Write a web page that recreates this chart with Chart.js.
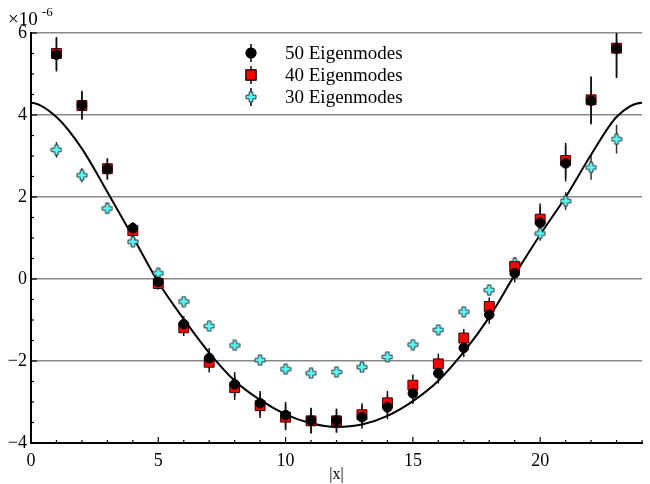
<!DOCTYPE html>
<html><head><meta charset="utf-8">
<script src="https://cdn.jsdelivr.net/npm/chart.js@4.4.1/dist/chart.umd.min.js"></script>
<style>html,body{margin:0;padding:0;background:#fff;}#wrap{width:650px;height:484px;position:relative;}</style>
</head><body><div id="wrap"><canvas id="c" width="650" height="484"></canvas></div>
<script>
// ---- data (values in units of 1e-6) ----
const xs = [1,2,3,4,5,6,7,8,9,10,11,12,13,14,15,16,17,18,19,20,21,22,23];
const modes50 = [5.47,4.24,2.68,1.24,-0.07,-1.10,-1.93,-2.57,-3.03,-3.32,-3.45,-3.45,-3.37,-3.13,-2.79,-2.30,-1.68,-0.87,0.14,1.37,2.82,4.35,5.62];
const err50   = [0.41,0.35,0.26,0.15,0.15,0.20,0.25,0.30,0.30,0.32,0.31,0.29,0.28,0.29,0.26,0.25,0.22,0.22,0.22,0.39,0.44,0.58,0.72];
const modes40 = [5.50,4.23,2.69,1.18,-0.11,-1.19,-2.03,-2.65,-3.09,-3.37,-3.46,-3.46,-3.31,-3.02,-2.59,-2.07,-1.44,-0.67,0.30,1.46,2.89,4.37,5.63];
const err40   = [0.40,0.34,0.25,0.15,0.15,0.20,0.25,0.30,0.30,0.32,0.31,0.29,0.28,0.29,0.26,0.25,0.22,0.22,0.22,0.38,0.43,0.57,0.70];
const modes30 = [3.15,2.53,1.72,0.91,0.14,-0.55,-1.15,-1.62,-1.98,-2.20,-2.30,-2.27,-2.15,-1.90,-1.60,-1.24,-0.80,-0.27,0.38,1.11,1.90,2.72,3.41];
const err30   = [0.19,0.17,0.14,0.12,0.12,0.10,0.10,0.10,0.12,0.12,0.12,0.12,0.12,0.12,0.12,0.12,0.12,0.13,0.15,0.18,0.22,0.30,0.35];
// fitted curve, read at integer |x| (end points just outside the frame keep the crests flat)
const curveX = [-1,0,1,2,3,4,5,6,7,8,9,10,11,12,13,14,15,16,17,18,19,20,21,22,23,24,25];
const curveY = [3.95,4.30,3.95,3.18,2.12,1.03,-0.08,-0.98,-1.80,-2.48,-2.95,-3.30,-3.52,-3.61,-3.55,-3.34,-2.98,-2.48,-1.78,-0.93,0.10,1.08,2.00,3.03,3.95,4.30,4.10];
const xTicks = [0,5,10,15,20];
const yTicks = [-4,-2,0,2,4,6];
const labels = ['50 Eigenmodes','40 Eigenmodes','30 Eigenmodes'];

const FONT = 'Liberation Serif';
const toPts = (x, y) => x.map((v, i) => ({x: v, y: y[i]}));

// plus-shaped marker
function makePlus() {
  const c = document.createElement('canvas'); c.width = 12; c.height = 12;
  const g = c.getContext('2d');
  const m = 6, a = 1.8, b = 5;
  g.beginPath();
  g.moveTo(m-a, m-b); g.lineTo(m+a, m-b); g.lineTo(m+a, m-a); g.lineTo(m+b, m-a);
  g.lineTo(m+b, m+a); g.lineTo(m+a, m+a); g.lineTo(m+a, m+b); g.lineTo(m-a, m+b);
  g.lineTo(m-a, m+a); g.lineTo(m-b, m+a); g.lineTo(m-b, m-a); g.lineTo(m-a, m-a); g.closePath();
  g.fillStyle = '#55ffff'; g.fill();
  g.strokeStyle = '#333'; g.lineWidth = 1; g.stroke();
  return c;
}
const plus = makePlus();

const errorBars = {
  id: 'errorBars',
  beforeDatasetsDraw(chart) {
    const {ctx, chartArea: a, scales: {x, y}} = chart;
    ctx.save();
    ctx.beginPath(); ctx.rect(a.left, a.top, a.right - a.left, a.bottom - a.top); ctx.clip();
    chart.data.datasets.forEach(ds => {
      if (!ds.errors) return;
      ctx.strokeStyle = ds.errColor; ctx.lineWidth = 1.5;
      ds.data.forEach((p, i) => {
        const px = x.getPixelForValue(p.x);
        ctx.beginPath();
        ctx.moveTo(px, y.getPixelForValue(p.y + ds.errors[i]));
        ctx.lineTo(px, y.getPixelForValue(p.y - ds.errors[i]));
        ctx.stroke();
      });
    });
    ctx.restore();
  }
};

const decor = {
  id: 'decor',
  afterDraw(chart) {
    const {ctx, chartArea: a, scales: {x, y}} = chart;
    ctx.save();
    ctx.strokeStyle = '#000'; ctx.lineWidth = 1.2;
    for (let v = 0; v <= 24; v++) {
      const px = x.getPixelForValue(v), len = v % 5 === 0 ? 6 : 3;
      ctx.beginPath(); ctx.moveTo(px, a.bottom); ctx.lineTo(px, a.bottom - len); ctx.stroke();
    }
    for (let v = -4; v <= 6; v += 0.5) {
      const py = y.getPixelForValue(v), len = v % 2 === 0 ? 6 : 3;
      ctx.beginPath(); ctx.moveTo(a.left, py); ctx.lineTo(a.left + len, py); ctx.stroke();
    }
    // exponent
    ctx.fillStyle = '#000'; ctx.textBaseline = 'alphabetic'; ctx.textAlign = 'left';
    ctx.font = '19px "' + FONT + '"';
    ctx.fillText('\u00d710', 8, 25);
    ctx.font = '13px "' + FONT + '"';
    ctx.fillText('-6', 42, 16);
    // legend
    const lx = 251, ly = [53, 75, 97];
    chart.data.datasets.slice(0, 3).forEach((ds, i) => {
      ctx.strokeStyle = '#000'; ctx.lineWidth = 1.5;
      ctx.beginPath(); ctx.moveTo(lx, ly[i] - 9); ctx.lineTo(lx, ly[i] + 9); ctx.stroke();
      if (i === 2) {
        ctx.drawImage(plus, lx - 6, ly[i] - 6);
      } else {
        Chart.helpers.drawPoint(ctx, {pointStyle: ds.pointStyle, radius: ds.pointRadius, borderWidth: ds.borderWidth, rotation: 0}, lx, ly[i]);
        ctx.fillStyle = ds.backgroundColor; ctx.strokeStyle = ds.borderColor; ctx.lineWidth = ds.borderWidth;
        ctx.fill(); if (ds.borderWidth) ctx.stroke();
      }
      ctx.fillStyle = '#000'; ctx.font = '19px "' + FONT + '"'; ctx.textBaseline = 'middle';
      ctx.fillText(labels[i], 285, ly[i] + 1);
    });
    ctx.restore();
  }
};

new Chart(document.getElementById('c'), {
  type: 'scatter',
  data: {
    datasets: [
      {label: labels[0], data: toPts(xs, modes50), errors: err50, errColor: '#111',
       pointStyle: 'circle', pointRadius: 4.8, backgroundColor: '#000', borderColor: '#000', borderWidth: 1},
      {label: labels[1], data: toPts(xs, modes40), errors: err40, errColor: '#111',
       pointStyle: 'rect', pointRadius: 7, backgroundColor: '#ff0000', borderColor: '#300', borderWidth: 1},
      {label: labels[2], data: toPts(xs, modes30), errors: err30, errColor: '#333',
       pointStyle: plus, pointRadius: 6},
      {label: 'fit', data: toPts(curveX, curveY), showLine: true, cubicInterpolationMode: 'monotone',
       pointRadius: 0, borderColor: '#000', borderWidth: 2, fill: false}
    ]
  },
  options: {
    responsive: false, animation: false, events: [],
    layout: {padding: {top: 33, right: 1, left: 0, bottom: 0}},
    plugins: {legend: {display: false}, tooltip: {enabled: false}},
    scales: {
      x: {
        type: 'linear', min: 0, max: 24,
        afterBuildTicks: s => { s.ticks = xTicks.map(v => ({value: v})); },
        ticks: {font: {family: FONT, size: 18}, color: '#000', padding: 7, maxRotation: 0, autoSkip: false},
        grid: {display: false, drawTicks: false},
        border: {display: true, color: '#000', width: 2},
        title: {display: true, text: '|x|', font: {family: FONT, size: 16}, color: '#000', padding: {top: 0, bottom: 0}},
        afterFit: s => { s.height = 41; }
      },
      y: {
        min: -4, max: 6,
        afterBuildTicks: s => { s.ticks = yTicks.map(v => ({value: v})); },
        ticks: {font: {family: FONT, size: 18}, color: '#000', padding: 4,
                callback: v => v < 0 ? '\u2212' + Math.abs(v) : String(v)},
        grid: {color: '#888', lineWidth: 1.5, drawTicks: false},
        border: {display: true, color: '#000', width: 2},
        afterFit: s => { s.width = 31; }
      }
    }
  },
  plugins: [errorBars, decor]
});
</script></body></html>
